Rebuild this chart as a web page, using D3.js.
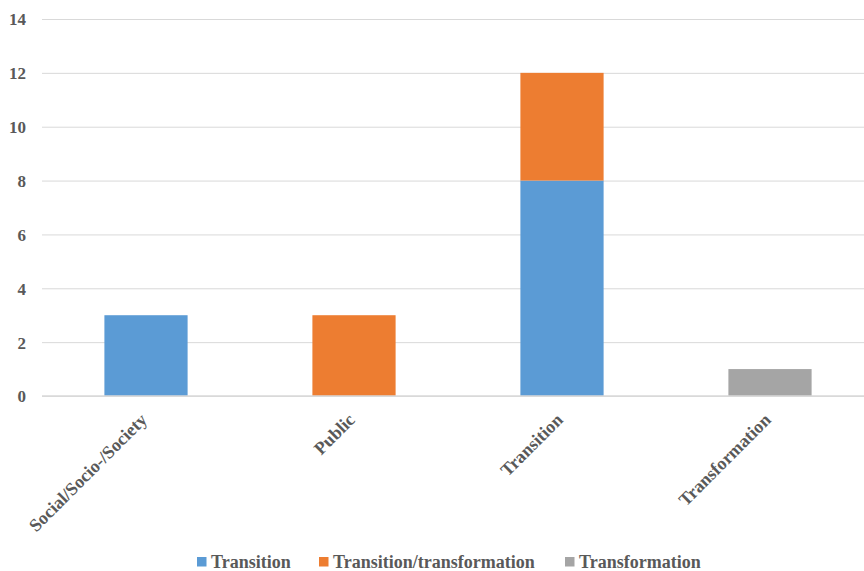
<!DOCTYPE html>
<html>
<head>
<meta charset="utf-8">
<script src="https://cdn.jsdelivr.net/npm/d3@7"></script>
<style>
  body { margin: 0; background: #fff; }
  svg { display: block; }
</style>
</head>
<body>
<svg id="chart" width="864" height="571"></svg>
<script>
const categories = ["Social/Socio-/Society", "Public", "Transition", "Transformation"];
const seriesNames = ["Transition", "Transition/transformation", "Transformation"];
const transitionValues = [3, 0, 8, 0];
const transitionTransformationValues = [0, 3, 4, 0];
const transformationValues = [0, 0, 0, 1];
const yTicks = [0, 2, 4, 6, 8, 10, 12, 14];
const colors = ["#5B9BD5", "#ED7D31", "#A5A5A5"];
const FONT = "'Liberation Serif', 'Times New Roman', 'DejaVu Serif', serif";

const svg = d3.select("#chart");
const x = d3.scaleBand().domain(categories).range([42, 874]).paddingInner(0.6).paddingOuter(0.3);
const y = d3.scaleLinear().domain([0, 14]).range([396, 19]);

const rows = categories.map((c, i) => ({
  cat: c,
  [seriesNames[0]]: transitionValues[i],
  [seriesNames[1]]: transitionTransformationValues[i],
  [seriesNames[2]]: transformationValues[i]
}));
const stacked = d3.stack().keys(seriesNames)(rows);

// gridlines
const yAxis = d3.axisLeft(y).tickValues(yTicks).tickSize(-(864 - 42)).tickPadding(16);
const gy = svg.append("g").attr("transform", "translate(42,0)").call(yAxis)
  .attr("font-family", FONT).attr("font-weight", "bold").attr("font-size", 17);
gy.select(".domain").remove();
gy.selectAll(".tick line").attr("stroke", "#d9d9d9").attr("stroke-width", 1);
gy.selectAll(".tick text").attr("fill", "#595959").attr("dy", "0.35em");

// bars
svg.append("g").selectAll("g").data(stacked).join("g")
  .attr("fill", (d, i) => colors[i])
  .selectAll("rect").data(d => d.filter(p => p[1] - p[0] > 0)).join("rect")
  .attr("x", d => x(d.data.cat))
  .attr("width", x.bandwidth())
  .attr("y", d => y(d[1]))
  .attr("height", d => y(d[0]) - y(d[1]));

// baseline
svg.append("line").attr("x1", 42).attr("x2", 864).attr("y1", y(0)).attr("y2", y(0))
  .attr("stroke", "#d9d9d9").attr("stroke-width", 1.5);

// x axis labels
const xAxis = d3.axisBottom(x).tickSize(0).tickPadding(0);
const gx = svg.append("g").attr("transform", `translate(0,${y(0)})`).call(xAxis)
  .attr("font-family", FONT).attr("font-weight", "bold").attr("font-size", 18);
gx.select(".domain").remove();
gx.selectAll(".tick text")
  .attr("fill", "#595959")
  .attr("text-anchor", "end")
  .attr("dy", null)
  .attr("y", 0)
  .attr("transform", "translate(2,25) rotate(-45)");

// legend
const legendX = [197, 319, 565];
const lg = svg.append("g").attr("font-family", FONT).attr("font-weight", "bold").attr("font-size", 18);
seriesNames.forEach((s, i) => {
  lg.append("rect").attr("x", legendX[i]).attr("y", 557).attr("width", 9.5).attr("height", 9.5).attr("fill", colors[i]);
  lg.append("text").attr("x", legendX[i] + 14).attr("y", 561.5).attr("dy", "0.35em")
    .attr("fill", "#595959").text(s);
});
</script>
</body>
</html>
